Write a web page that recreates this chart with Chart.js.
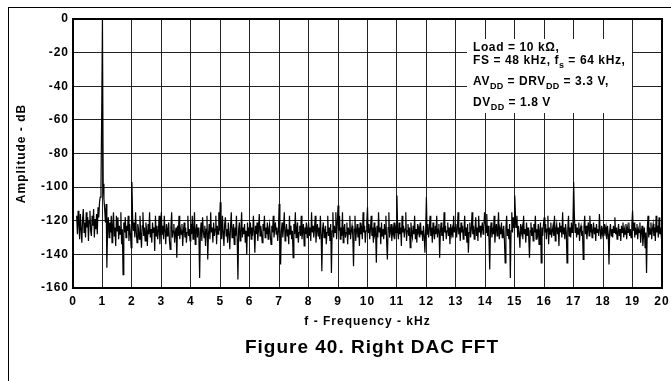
<!DOCTYPE html>
<html>
<head>
<meta charset="utf-8">
<script src="https://cdn.jsdelivr.net/npm/chart.js@4.4.1/dist/chart.umd.min.js"></script>
<style>
  html, body { margin: 0; padding: 0; background: #fff; }
  #wrap { position: relative; width: 671px; height: 381px; }
  #wrap canvas { position: absolute; left: 0; top: 0; }
  .frame { position: absolute; background: #000; }
  #frameTop { left: 8px; top: 7px; right: 0; height: 1px; }
  #frameLeft { left: 8px; top: 7px; bottom: 0; width: 1px; }
</style>
</head>
<body>
<div id="wrap">
  <canvas id="fftChart" width="671" height="381"></canvas>
  <div class="frame" id="frameTop"></div>
  <div class="frame" id="frameLeft"></div>
</div>
<script>
// ---- data ----
// FFT bins every 0.025 kHz, one row per kHz (40 bins: k.000 ... k.975)
const binStepKHz = 0.025;
const amplitudeDb = [
  // 0 kHz
  null, null, null, null, null, -117, -128, -114, -122, -131, -116, -125, -133, -119, -113, -127, -121, -130, -115, -124,
  -118, -132, -120, -114, -126, -129, -117, -123, -113, -130, -119, -125, -116, -128, -112, -118, -109, -106, -100, -55,
  // 1 kHz
  0, -98, -107, -113, -121, -110, -148, -124, -118, -130, -121, -127, -117, -133, -122, -115, -129, -124, -135, -117,
  -126, -118, -131, -123, -128, -115, -134, -125, -152, -121, -127, -118, -130, -123, -126, -117, -132, -122, -128, -136,
  // 2 kHz
  -97, -118, -126, -121, -130, -115, -127, -133, -122, -125, -131, -117, -128, -136, -123, -115, -129, -124, -132, -121,
  -126, -135, -122, -128, -115, -130, -125, -133, -121, -127, -124, -138, -117, -129, -123, -131, -126, -117, -134, -125,
  // 3 kHz
  -115, -128, -123, -131, -117, -126, -134, -122, -129, -125, -121, -132, -137, -124, -115, -130, -126, -122, -133, -127,
  -124, -142, -123, -129, -117, -131, -125, -128, -122, -135, -126, -121, -130, -124, -133, -127, -117, -129, -125, -132,
  // 4 kHz
  -122, -128, -117, -131, -125, -115, -134, -126, -122, -130, -124, -129, -154, -127, -121, -132, -118, -126, -130, -123,
  -135, -125, -117, -143, -128, -122, -131, -115, -127, -124, -133, -121, -129, -125, -117, -134, -123, -128, -115, -126,
  // 5 kHz
  -109, -124, -131, -117, -127, -135, -122, -118, -129, -125, -133, -121, -128, -137, -123, -115, -130, -126, -122, -134,
  -124, -129, -117, -131, -155, -125, -121, -132, -127, -115, -130, -124, -128, -122, -133, -126, -140, -121, -129, -124,
  // 6 kHz
  -127, -121, -131, -124, -129, -117, -126, -139, -123, -128, -121, -132, -125, -116, -129, -123, -127, -133, -122, -126,
  -117, -130, -124, -128, -121, -131, -125, -122, -129, -134, -123, -127, -117, -130, -125, -121, -128, -124, -132, -126,
  // 7 kHz
  -110, -124, -146, -126, -121, -130, -124, -115, -132, -127, -122, -129, -125, -134, -117, -128, -123, -131, -126, -142,
  -122, -128, -115, -130, -125, -121, -133, -127, -123, -129, -117, -131, -126, -122, -135, -124, -128, -121, -130, -125,
  // 8 kHz
  -121, -129, -124, -132, -115, -127, -123, -130, -125, -117, -133, -126, -122, -129, -124, -131, -117, -128, -150, -125,
  -121, -130, -126, -123, -134, -127, -117, -129, -124, -132, -122, -151, -126, -115, -130, -123, -127, -115, -131, -122,
  // 9 kHz
  -111, -126, -117, -131, -124, -129, -115, -133, -125, -122, -130, -127, -121, -134, -124, -128, -117, -131, -126, -123,
  -129, -147, -125, -117, -132, -126, -122, -130, -124, -135, -121, -128, -125, -131, -115, -127, -123, -133, -126, -121,
  // 10 kHz
  -112, -127, -122, -131, -125, -117, -129, -124, -133, -121, -128, -126, -145, -123, -130, -115, -127, -124, -134, -121,
  -129, -125, -131, -122, -128, -117, -133, -143, -124, -115, -130, -126, -122, -132, -125, -128, -121, -131, -124, -127,
  // 11 kHz
  -105, -126, -131, -121, -128, -124, -135, -117, -127, -123, -130, -125, -115, -132, -126, -122, -129, -124, -136, -121,
  -127, -130, -123, -128, -117, -131, -125, -133, -122, -127, -124, -130, -121, -128, -126, -132, -123, -129, -139, -125,
  // 12 kHz
  -106, -128, -122, -130, -125, -117, -129, -124, -133, -121, -127, -131, -123, -128, -117, -130, -125, -122, -142, -126,
  -121, -129, -124, -132, -115, -127, -123, -131, -126, -121, -129, -124, -134, -122, -128, -125, -130, -117, -127, -124,
  // 13 kHz
  -122, -130, -125, -115, -128, -124, -132, -121, -127, -123, -131, -126, -117, -129, -124, -133, -122, -139, -127, -121,
  -130, -125, -115, -128, -123, -131, -126, -118, -129, -124, -132, -117, -127, -123, -130, -125, -121, -128, -124, -115,
  // 14 kHz
  -121, -127, -116, -129, -123, -131, -149, -125, -121, -130, -124, -128, -117, -133, -126, -122, -129, -124, -115, -131,
  -125, -128, -121, -130, -126, -123, -132, -145, -124, -117, -129, -125, -131, -122, -154, -126, -115, -127, -118, -124,
  // 15 kHz
  -105, -117, -124, -117, -130, -123, -128, -136, -122, -127, -124, -131, -117, -128, -125, -133, -121, -129, -124, -130,
  -142, -126, -121, -129, -124, -132, -122, -127, -117, -131, -125, -128, -122, -134, -126, -121, -145, -124, -129, -122,
  // 16 kHz
  -118, -127, -122, -131, -125, -117, -134, -124, -128, -121, -130, -126, -123, -129, -117, -132, -125, -122, -128, -124,
  -135, -121, -127, -123, -130, -115, -128, -124, -131, -122, -127, -145, -125, -117, -129, -124, -130, -121, -127, -123,
  // 17 kHz
  -97, -117, -127, -122, -130, -124, -128, -121, -132, -125, -123, -129, -126, -143, -124, -117, -128, -123, -131, -125,
  -121, -129, -117, -127, -122, -130, -126, -121, -128, -124, -132, -122, -127, -125, -129, -116, -126, -131, -123, -128,
  // 18 kHz
  -125, -129, -122, -127, -124, -131, -123, -128, -146, -126, -122, -129, -125, -130, -123, -127, -118, -128, -124, -131,
  -126, -122, -129, -125, -132, -123, -127, -121, -130, -125, -128, -122, -131, -124, -127, -121, -129, -125, -130, -123,
  // 19 kHz
  -114, -126, -121, -130, -124, -128, -122, -131, -125, -127, -121, -133, -126, -123, -135, -128, -124, -136, -127, -151,
  -125, -117, -130, -124, -128, -121, -131, -125, -122, -129, -124, -132, -117, -127, -123, -130, -118, -128, -124, -129,
  // 20 kHz
  -126
];
const freqTicksKHz = [0, 1, 2, 3, 4, 5, 6, 7, 8, 9, 10, 11, 12, 13, 14, 15, 16, 17, 18, 19, 20];
const ampTicksDb = [0, -20, -40, -60, -80, -100, -120, -140, -160];

const xTitle = 'f - Frequency - kHz';
const yTitle = 'Amplitude - dB';
const figureTitle = 'Figure 40. Right DAC FFT';
// note lines: [text, isSubscript] pieces
const noteLines = [
  [['Load = 10 k\u03A9,', false]],
  [['FS = 48 kHz, f', false], ['s', true], [' = 64 kHz,', false]],
  [['AV', false], ['DD', true], [' = DRV', false], ['DD', true], [' = 3.3 V,', false]],
  [['DV', false], ['DD', true], [' = 1.8 V', false]]
];

const FONT = "'Liberation Sans', Arial, sans-serif";

// ---- extra drawing: spacing, note box, plot frame, caption ----
const fftDecor = {
  id: 'fftDecor',
  beforeDraw(chart) {
    chart.ctx.letterSpacing = '1px';
  },
  afterDraw(chart) {
    const { ctx, chartArea: a } = chart;
    ctx.save();
    // note box over the grid
    ctx.fillStyle = '#fff';
    ctx.fillRect(467, 39, 165, 74);
    ctx.fillStyle = '#000';
    ctx.textBaseline = 'alphabetic';
    ctx.textAlign = 'left';
    const baselines = [51, 64, 85, 106];
    noteLines.forEach((line, i) => {
      let x = 473;
      line.forEach(([t, sub]) => {
        ctx.font = sub ? `bold 9px ${FONT}` : `bold 12px ${FONT}`;
        ctx.letterSpacing = sub ? '0.3px' : '0.6px';
        ctx.fillText(t, x, baselines[i] + (sub ? 4 : 0));
        x += ctx.measureText(t).width;
      });
    });
    // plot frame
    ctx.strokeStyle = '#000';
    ctx.lineWidth = 2;
    ctx.strokeRect(a.left, a.top, a.right - a.left, a.bottom - a.top);
    // caption
    ctx.font = `bold 19px ${FONT}`;
    ctx.letterSpacing = '1px';
    ctx.textAlign = 'center';
    ctx.fillText(figureTitle, 372, 353);
    ctx.restore();
  }
};

const points = amplitudeDb.map((v, i) => ({ x: i * binStepKHz, y: v }));

new Chart(document.getElementById('fftChart'), {
  type: 'line',
  data: {
    datasets: [{
      data: points,
      borderColor: '#000',
      borderWidth: 1.2,
      pointRadius: 0,
      tension: 0,
      spanGaps: false
    }]
  },
  options: {
    responsive: false,
    animation: false,
    layout: { padding: { left: 0, right: 9, top: 19, bottom: 0 } },
    plugins: { legend: { display: false }, tooltip: { enabled: false } },
    scales: {
      x: {
        type: 'linear',
        min: 0,
        max: 20,
        afterFit: s => { s.height = 93; s.paddingLeft = 0; s.paddingRight = 0; },
        afterBuildTicks: s => { s.ticks = freqTicksKHz.map(v => ({ value: v })); },
        grid: { color: '#222', lineWidth: 1, drawTicks: false },
        border: { color: '#000', width: 2 },
        ticks: { color: '#000', padding: 6, maxRotation: 0, autoSkip: false, font: { family: FONT, size: 12, weight: 'bold' } },
        title: { display: true, text: xTitle, color: '#000', padding: { top: 0, bottom: 52 }, font: { family: FONT, size: 12, weight: 'bold' } }
      },
      y: {
        type: 'linear',
        min: -160,
        max: 0,
        afterFit: s => { s.width = 73; s.paddingTop = 0; s.paddingBottom = 0; },
        afterBuildTicks: s => { s.ticks = ampTicksDb.map(v => ({ value: v })); },
        grid: { color: '#222', lineWidth: 1, drawTicks: false },
        border: { color: '#000', width: 2 },
        ticks: { color: '#000', padding: 4, font: { family: FONT, size: 12, weight: 'bold' } },
        title: { display: true, text: yTitle, color: '#000', padding: { top: 14, bottom: 0 }, font: { family: FONT, size: 12, weight: 'bold' } }
      }
    }
  },
  plugins: [fftDecor]
});
</script>
</body>
</html>
